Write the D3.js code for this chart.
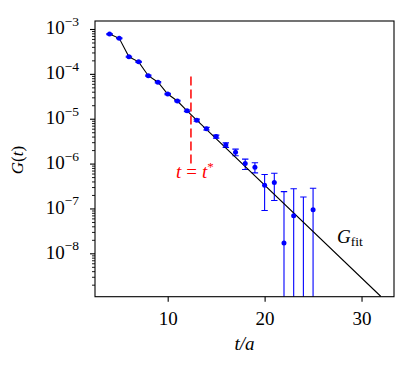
<!DOCTYPE html>
<html lang="en">
<head>
<meta charset="UTF-8">
<title>G(t)</title>
<style>
  body { margin: 0; background: #fff; }
  text { font-family: "Liberation Serif", "DejaVu Serif", serif; fill: #000; }
</style>
<script src="https://d3js.org/d3.v7.min.js"></script>
</head>
<body>
<script>
// correlator data
const tVals = [4, 5, 6, 7, 8, 9, 10, 11, 12, 13, 14, 15, 16, 17, 18, 19, 20, 21, 22, 23, 24, 25];
const gVals = [7.7e-4, 6.2e-4, 2.4e-4, 1.85e-4, 9.1e-5, 6.5e-5, 3.56e-5, 2.48e-5, 1.5e-5, 9.3e-6, 6.0e-6, 4.0e-6,
  2.6e-6, 1.8e-6, 1.0e-6, 8.3e-7, 3.3e-7, 3.8e-7, 1.7e-8, 6.9e-8, -3e-8, 9.3e-8];
const gErr = [2e-5, 1.5e-5, 6e-6, 5e-6, 2.5e-6, 2e-6, 1.2e-6, 9e-7, 6e-7, 5e-7, 4e-7, 3e-7,
  3e-7, 3e-7, 2.6e-7, 2.1e-7, 2.4e-7, 2.3e-7, 2.2e-7, 2.05e-7, 2.1e-7, 1.9e-7];

// fit curve (follows the data early, then a single exponential)
const fitT = [4, 5, 6, 7, 8, 9, 10, 11, 12, 32];
const fitG = [7.7e-4, 6.2e-4, 2.4e-4, 1.85e-4, 9.1e-5, 6.5e-5, 3.56e-5, 2.48e-5, 1.5e-5, 1.09e-9];

const tStar = 12.4;
const tStarRange = [1e-6, 1e-4];

const xTicks = [10, 20, 30];
const yTickExp = [-8, -7, -6, -5, -4, -3];

const width = 416;
const height = 370;
const pLeft = 95, pRight = 394, pTop = 21, pBottom = 296.7;

const svg = d3.select("body").append("svg")
  .attr("width", width)
  .attr("height", height);

const x = d3.scaleLinear().domain([2.5, 33.35]).range([pLeft, pRight]);
const y = d3.scaleLog().domain([1.079e-9, 1.507e-3]).range([pBottom, pTop]);

svg.append("clipPath").attr("id", "plot")
  .append("rect")
  .attr("x", pLeft).attr("y", pTop)
  .attr("width", pRight - pLeft).attr("height", pBottom - pTop);

const plot = svg.append("g").attr("clip-path", "url(#plot)");

// red dashed marker at t*
plot.append("line")
  .attr("x1", x(tStar)).attr("x2", x(tStar))
  .attr("y1", y(tStarRange[0])).attr("y2", y(tStarRange[1]))
  .attr("stroke", "#ff0000")
  .attr("stroke-width", 1.5)
  .attr("stroke-dasharray", "9,4");

svg.append("text")
  .attr("x", x(tStar) + 4)
  .attr("y", 178)
  .attr("text-anchor", "middle")
  .style("font-size", "19px")
  .style("fill", "#ff0000")
  .html('<tspan font-style="italic">t</tspan><tspan dx="5">=</tspan><tspan dx="5" font-style="italic">t</tspan><tspan dy="-7" font-size="13px">*</tspan>');

// error bars
const pts = tVals.map((t, i) => ({ t: t, g: gVals[i], e: gErr[i] }));

const bars = plot.selectAll(".bar")
  .data(pts)
  .join("g")
  .attr("class", "bar")
  .attr("stroke", "#0000ff")
  .attr("stroke-width", 1.1);

bars.append("line")
  .attr("x1", d => x(d.t)).attr("x2", d => x(d.t))
  .attr("y1", d => y(d.g + d.e))
  .attr("y2", d => d.g - d.e > 0 ? y(d.g - d.e) : pBottom + 10);

bars.append("line") // top cap
  .attr("x1", d => x(d.t) - 3.2).attr("x2", d => x(d.t) + 3.2)
  .attr("y1", d => y(d.g + d.e)).attr("y2", d => y(d.g + d.e));

bars.filter(d => d.g - d.e > 0)
  .append("line") // bottom cap
  .attr("x1", d => x(d.t) - 3.2).attr("x2", d => x(d.t) + 3.2)
  .attr("y1", d => y(d.g - d.e)).attr("y2", d => y(d.g - d.e));

// fit line
const line = d3.line()
  .x((d, i) => x(fitT[i]))
  .y(d => y(d));

plot.append("path")
  .datum(fitG)
  .attr("d", line)
  .attr("fill", "none")
  .attr("stroke", "#000")
  .attr("stroke-width", 1.1);

// points (negative values can't be shown on log axis)
plot.selectAll(".pt")
  .data(pts.filter(d => d.g > 0))
  .join("circle")
  .attr("class", "pt")
  .attr("cx", d => x(d.t))
  .attr("cy", d => y(d.g))
  .attr("r", 2.5)
  .attr("fill", "#0000ff");

// axes
const xAxis = svg.append("g")
  .attr("transform", `translate(0,${pBottom})`)
  .call(d3.axisBottom(x).tickValues(xTicks).tickSize(5).tickPadding(9.5));
xAxis.select(".domain").remove();
xAxis.selectAll("line").attr("stroke-width", 1.1);
xAxis.selectAll("text").style("font-size", "19px").attr("font-family", null);

const majors = yTickExp.map(e => Math.pow(10, e));
const minors = [];
for (let e = -9; e <= -3; e++) {
  for (let k = 2; k <= 9; k++) {
    const v = k * Math.pow(10, e);
    if (v >= y.domain()[0] && v <= y.domain()[1]) minors.push(v);
  }
}

const yMajor = svg.append("g")
  .attr("transform", `translate(${pLeft},0)`)
  .call(d3.axisLeft(y).tickValues(majors).tickSize(5).tickFormat(""));
yMajor.select(".domain").remove();
yMajor.selectAll("line").attr("stroke-width", 1.1);

const yMinor = svg.append("g")
  .attr("transform", `translate(${pLeft},0)`)
  .call(d3.axisLeft(y).tickValues(minors).tickSize(3).tickFormat(""));
yMinor.select(".domain").remove();
yMinor.selectAll("line").attr("stroke-width", 0.9);

svg.selectAll(".ylab")
  .data(yTickExp)
  .join("text")
  .attr("class", "ylab")
  .attr("x", 79)
  .attr("y", d => y(Math.pow(10, d)) + 5.5)
  .attr("text-anchor", "end")
  .style("font-size", "19px")
  .html(d => `10<tspan dy="-8.5" font-size="13.5px">\u2212${-d}</tspan>`);

// frame
svg.append("rect")
  .attr("x", pLeft).attr("y", pTop)
  .attr("width", pRight - pLeft).attr("height", pBottom - pTop)
  .attr("fill", "none")
  .attr("stroke", "#000")
  .attr("stroke-width", 1.1);

// labels
svg.append("text")
  .attr("x", (pLeft + pRight) / 2)
  .attr("y", 350)
  .attr("text-anchor", "middle")
  .style("font-size", "19px")
  .style("font-style", "italic")
  .text("t/a");

svg.append("text")
  .attr("transform", "translate(23,160) rotate(-90)")
  .attr("text-anchor", "middle")
  .style("font-size", "17px")
  .html('<tspan font-style="italic">G</tspan>(<tspan font-style="italic">t</tspan>)');

svg.append("text")
  .attr("x", 337)
  .attr("y", 243)
  .style("font-size", "19px")
  .html('<tspan font-style="italic">G</tspan><tspan dy="2.5" font-size="13.5px">fit</tspan>');
</script>
</body>
</html>
